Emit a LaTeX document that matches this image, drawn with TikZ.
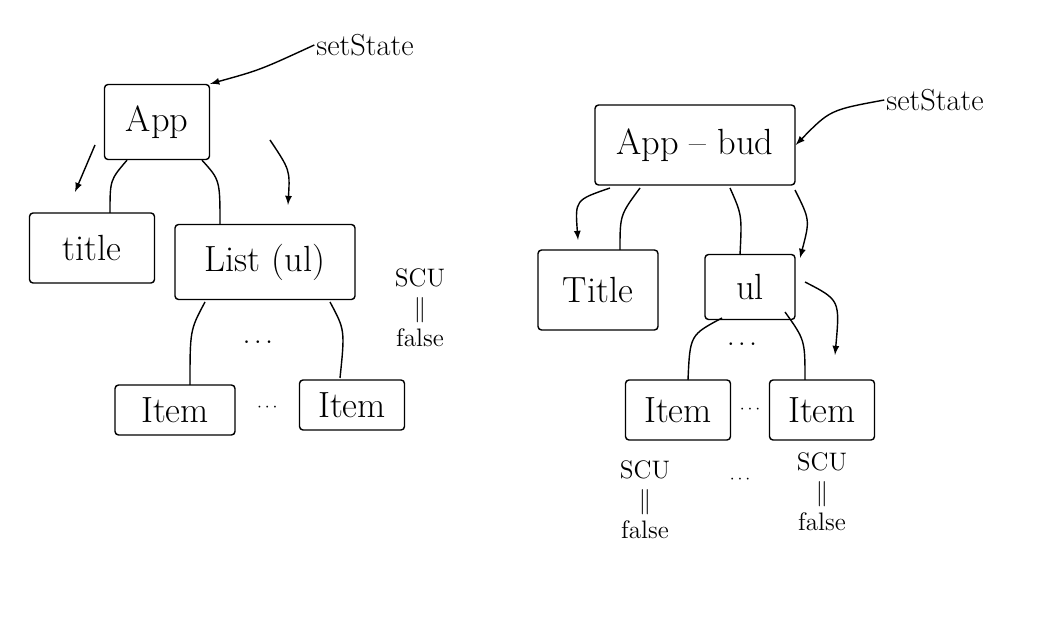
\documentclass[tikz,border=0pt]{standalone}
\usetikzlibrary{positioning,calc}
\begin{document}
\begin{tikzpicture}[>=latex,x=0.02cm,y=-0.02cm,
  box/.style={draw,thick,rounded corners=2pt,font=\huge,inner sep=0pt},
  note/.style={font=\Large,align=center,inner sep=1pt}]
  \useasboundingbox (0,0) rectangle (1048,638);
  % left tree
  \node[box,minimum width=2.1cm,minimum height=1.5cm] (app) at (157,122) {App};
  \node[note,font=\LARGE] (st1) at (365,45) {setState};
  \node[box,minimum width=2.5cm,minimum height=1.4cm] (title1) at (92,248) {title};
  \node[box,minimum width=3.6cm,minimum height=1.5cm] (list) at (265,262) {List (ul)};
  \node[note] (scu1) at (420,308) {SCU\\[-1pt]$\|$\\[-1pt]false};
  \node[box,minimum width=2.4cm,minimum height=1cm] (item1) at (175,410) {Item};
  \node[box,minimum width=2.1cm,minimum height=1cm] (item2) at (352,405) {Item};
  \node (d1) at (258,343) {\Large$\cdots$};
  \node at ($(item1.east)!0.5!(item2.west)$) {$\cdots$};
  \draw[->,thick] (st1.west) .. controls (260,70) .. (app.north east);
  \draw[thick] (app.south) ++(-30,0) coordinate (a1) .. controls (110,180) .. (110,213);
  \draw[thick] (app.south) ++(45,0) coordinate (a2) .. controls (220,180) .. (220,225);
  \draw[->,thick] (95,145) -- (75,192);
  \draw[->,thick] (270,140) .. controls (290,170) .. (288,205);
  \draw[thick] (205,302) .. controls (190,330) .. (190,385);
  \draw[thick] (330,302) .. controls (345,330) .. (340,378);
  % right tree
  \node[box,minimum width=4cm,minimum height=1.6cm] (bud) at (695,145) {App -- bud};
  \node[note,font=\LARGE] (st2) at (935,100) {setState};
  \node[box,minimum width=2.4cm,minimum height=1.6cm] (title2) at (598,290) {Title};
  \node[box,minimum width=1.8cm,minimum height=1.3cm] (ul) at (750,287) {ul};
  \node[box,minimum width=2.1cm,minimum height=1.2cm] (item3) at (678,410) {Item};
  \node[box,minimum width=2.1cm,minimum height=1.2cm] (item4) at (822,410) {Item};
  \node at ($(item3.east)!0.5!(item4.west)$) {$\cdots$};
  \node at (742,345) {\Large$\cdots$};
  \node at (740,480) {$\cdots$};
  \node[note] (scu2) at (645,500) {SCU\\[-1pt]$\|$\\[-1pt]false};
  \node[note] (scu3) at (822,492) {SCU\\[-1pt]$\|$\\[-1pt]false};
  \draw[->,thick] (st2.west) .. controls (830,110) .. (bud.east);
  \draw[->,thick] (610,188) .. controls (575,200) .. (578,240);
  \draw[thick] (640,188) .. controls (620,215) .. (620,250);
  \draw[thick] (730,188) .. controls (742,215) .. (740,255);
  \draw[->,thick] (795,190) .. controls (810,220) .. (800,258);
  \draw[thick] (722,318) .. controls (690,335) .. (688,380);
  \draw[thick] (785,312) .. controls (805,340) .. (805,380);
  \draw[->,thick] (805,282) .. controls (840,300) .. (835,355);
\end{tikzpicture}
\end{document}
